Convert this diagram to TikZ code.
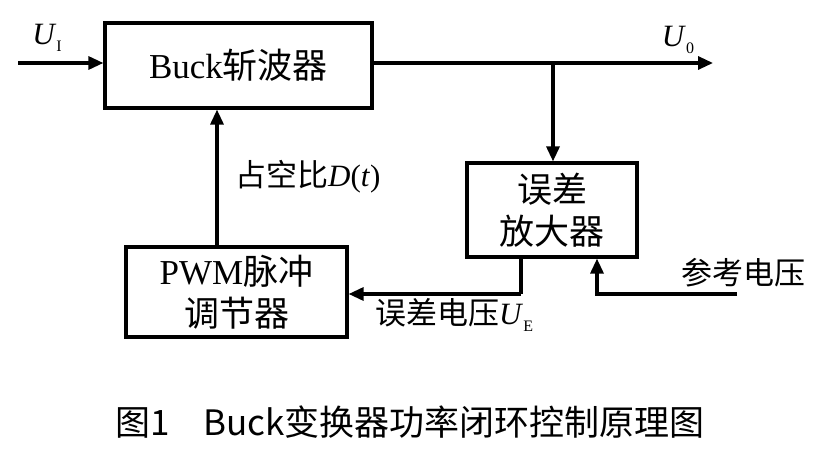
\documentclass[tikz,border=0pt]{standalone}
\usepackage{fontspec}
\setmainfont{Liberation Serif}
\newfontfamily\cjk{Noto Sans CJK SC}
\usetikzlibrary{arrows.meta}
\newcommand{\zh}[1]{{\cjk #1}}
\newcommand{\sub}[1]{\raisebox{-0.45ex}{\fontsize{16}{16}\selectfont #1}}
\begin{document}
\begin{tikzpicture}[x=1pt,y=-1pt,
  blk/.style={draw,line width=3.2pt,inner sep=0pt,align=center,
    font=\fontsize{35}{42}\selectfont},
  conn/.style={line width=3.2pt},
  arr/.style={conn,-{Triangle[length=15pt,width=13pt]}},
  lbl/.style={inner sep=0pt,font=\fontsize{31}{34}\selectfont}]
\useasboundingbox[fill=white] (0,0) rectangle (822,449);
% blocks
\node[blk,minimum width=267pt,minimum height=85pt] (buck) at (238.5,65.5) {Buck\zh{斩波器}};
\node[blk,minimum width=170pt,minimum height=94pt] (err) at (552,210) {\zh{误差}\\\zh{放大器}};
\node[blk,minimum width=221pt,minimum height=90pt] (pwm) at (236.5,292) {PWM\zh{脉冲}\\\zh{调节器}};
% coordinates
\coordinate (in) at (18,63);
\coordinate (out) at (713,63);
\coordinate (br) at (553,63);
\coordinate (eo) at (521,294);
\coordinate (ri) at (597,294);
\coordinate (ref) at (737,294);
\coordinate (pu) at (217,0);
% connectors
\draw[arr] (in) -- (buck.west |- in);
\draw[arr] (buck.east |- out) -- (out);
\draw[arr] (br) -- (br |- err.north);
\draw[conn] (err.south -| eo) -- (eo);
\draw[arr] (eo) -- (pwm.east |- eo);
\draw[arr] (ref) -- (ri) -- (ri |- err.south);
\draw[arr] (pwm.north -| pu) -- (buck.south -| pu);
% labels
\node[lbl] (ui) at (47,38) {\textit{U}\sub{I}};
\node[lbl] (uo) at (678,40) {\textit{U}\sub{0}};
\node[lbl,anchor=west] (duty) at (235,177) {\zh{占空比}\textit{D}(\textit{t})};
\node[lbl] (refl) at (743,273) {\zh{参考电压}};
\node[lbl,anchor=west] (ue) at (375,315) {\zh{误差电压}\textit{U}\sub{E}};
\node[inner sep=0pt,font=\cjk\fontsize{35}{38}\selectfont] (cap) at (410,422) {图1\hspace{34pt}Buck变换器功率闭环控制原理图};
\end{tikzpicture}
\end{document}
